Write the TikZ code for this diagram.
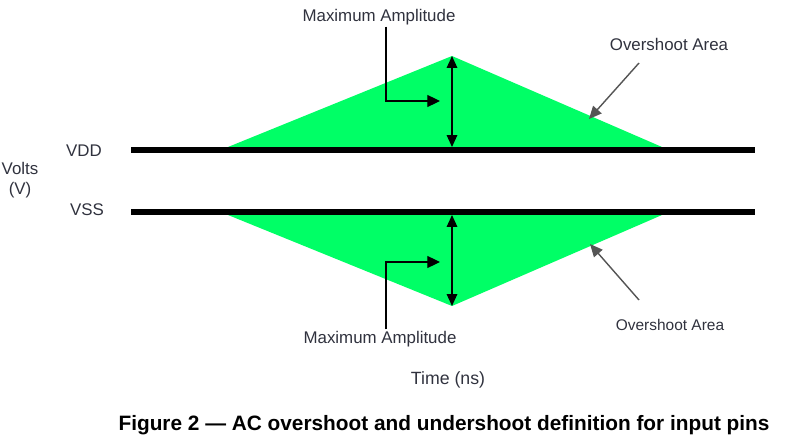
\documentclass[tikz,border=0pt]{standalone}
\usepackage{fontspec}
\setmainfont{Liberation Sans}
\usetikzlibrary{arrows.meta, positioning}
\definecolor{vgreen}{HTML}{00FF66}
\definecolor{vtext}{HTML}{30323E}
\definecolor{vgray}{HTML}{555555}
\tikzset{
  rail/.style={line width=4.6pt, black},
  area/.style={fill=vgreen, draw=none},
  lbl/.style={text=vtext, font=\fontsize{12}{14}\selectfont, inner sep=1pt},
  amparr/.style={{Triangle[length=8.5pt,width=7.5pt]}-{Triangle[length=8.5pt,width=7.5pt]}, line width=1pt},
  ptr/.style={-{Triangle[length=9pt,width=8.5pt]}, line width=0.9pt},
  gptr/.style={-{Triangle[length=9pt,width=8pt]}, line width=1pt, vgray},
}
\begin{document}
\begin{tikzpicture}[x=0.025cm, y=-0.025cm]
  \useasboundingbox (0,0) rectangle (796,445);
  % rails and areas
  \coordinate (vddL) at (131,150);
  \coordinate (vddR) at (755,150);
  \coordinate (vssL) at (131,212);
  \coordinate (vssR) at (755,212);
  \coordinate (upL) at (228,147);
  \coordinate (upT) at (452,56);
  \coordinate (upR) at (662,147);
  \coordinate (dnL) at (228,215);
  \coordinate (dnB) at (452,306);
  \coordinate (dnR) at (662,215);
  \fill[area] (upL) -- (upT) -- (upR) -- (662,150) -- (228,150) -- cycle;
  \fill[area] (dnL) -- (dnB) -- (dnR) -- (662,212) -- (228,212) -- cycle;
  \draw[rail] (vddL) -- (vddR);
  \draw[rail] (vssL) -- (vssR);

  % amplitude arrows
  \coordinate (upBase) at (452,147);
  \coordinate (dnBase) at (452,215);
  \draw[amparr] (upT) -- (upBase);
  \draw[amparr] (dnBase) -- (dnB);

  \node[lbl] (ampTop) at (379,17) {Maximum Amplitude};
  \coordinate (ampTopBend) at (386,101);
  \coordinate (ampTopTip) at (440,101);
  \draw[ptr] (ampTop.south -| ampTopBend) -- (ampTopBend) -- (ampTopTip);

  \node[lbl] (ampBot) at (380,339) {Maximum Amplitude};
  \coordinate (ampBotBend) at (386,262);
  \coordinate (ampBotTip) at (440,262);
  \draw[ptr] (ampBot.north -| ampBotBend) -- (ampBotBend) -- (ampBotTip);

  % overshoot labels
  \node[lbl] (ovTop) at (669,44) {Overshoot Area};
  \coordinate (ovTopTip) at (589,119);
  \draw[gptr] (639,63) -- (ovTopTip);
  \node[lbl, font=\fontsize{11}{13}\selectfont] (ovBot) at (670,325) {Overshoot Area};
  \coordinate (ovBotTip) at (590,244);
  \draw[gptr] (639,300) -- (ovBotTip);

  % axis labels
  \node[lbl] (vdd) at (84,151) {VDD};
  \node[lbl] (vss) at (87,210) {VSS};
  \node[lbl, align=center] (volts) at (20,180) {Volts\\(V)};
  \node[lbl, font=\fontsize{12.6}{15}\selectfont] (time) at (448,380) {Time (ns)};

  \node[font=\fontsize{14.8}{17}\selectfont\bfseries] (caption) at (444,425)
    {Figure 2 — AC overshoot and undershoot definition for input pins};
\end{tikzpicture}
\end{document}
